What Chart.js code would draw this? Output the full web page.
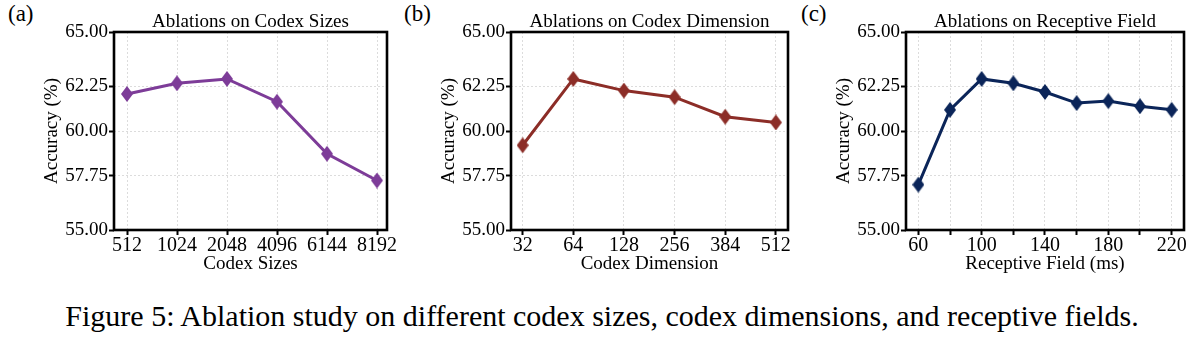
<!DOCTYPE html>
<html>
<head>
<meta charset="utf-8">
<script src="https://cdn.jsdelivr.net/npm/chart.js@4.4.0/dist/chart.umd.min.js"></script>
<style>
    body { margin: 0; width: 1204px; height: 342px; background: #fff; position: relative; overflow: hidden; font-family: 'Liberation Serif', 'Times New Roman', serif; }
    .panel { position: absolute; top: 0; }
    .tag { position: absolute; top: 1px; font-size: 23px; color: #000; }
    .caption { position: absolute; left: 0; width: 1204px; top: 299px; text-align: center; font-size: 30px; color: #000; }
</style>
</head>
<body>
<div class="tag" style="left: 8px;">(a)</div>
<div class="tag" style="left: 404px;">(b)</div>
<div class="tag" style="left: 801px;">(c)</div>
<canvas id="sizes" class="panel" width="400" height="280" style="left: 0px;"></canvas>
<canvas id="dims" class="panel" width="400" height="280" style="left: 400px;"></canvas>
<canvas id="field" class="panel" width="409" height="280" style="left: 795px;"></canvas>
<div class="caption">Figure 5: Ablation study on different codex sizes, codex dimensions, and receptive fields.</div>

<script>
var accTicks = [55, 57.75, 60, 62.25, 65];

var sizeLabels = ['512', '1024', '2048', '4096', '6144', '8192'];
var sizeAcc = [61.87, 62.41, 62.63, 61.48, 58.85, 57.50];

var dimLabels = ['32', '64', '128', '256', '384', '512'];
var dimAcc = [59.28, 62.63, 62.04, 61.71, 60.72, 60.43];

var fieldMs = [60, 80, 100, 120, 140, 160, 180, 200, 220];
var fieldAcc = [57.29, 61.07, 62.63, 62.41, 61.97, 61.41, 61.51, 61.25, 61.07];
var fieldLabeled = [60, 100, 140, 180, 220];

Chart.defaults.font.family = "'Liberation Serif', 'Times New Roman', serif";
Chart.defaults.color = '#000';

// thin diamond marker, taller than wide
function diamond(color) {
    var c = document.createElement('canvas');
    c.width = 12;
    c.height = 16;
    var g = c.getContext('2d');
    g.fillStyle = color;
    g.beginPath();
    g.moveTo(6, 0);
    g.lineTo(12, 8);
    g.lineTo(6, 16);
    g.lineTo(0, 8);
    g.closePath();
    g.fill();
    return c;
}

// black box round the plot area + title above it
var frame = {
    id: 'frame',
    beforeDatasetsDraw: function(chart) {
        var a = chart.chartArea, ctx = chart.ctx;
        ctx.save();
        ctx.strokeStyle = '#000';
        ctx.lineWidth = 2.6;
        ctx.strokeRect(a.left, a.top, a.right - a.left, a.bottom - a.top);
        ctx.restore();
    },
    afterDraw: function(chart) {
        var a = chart.chartArea, ctx = chart.ctx;
        ctx.save();
        ctx.font = "19px 'Liberation Serif', serif";
        ctx.fillStyle = '#000';
        ctx.textAlign = 'center';
        ctx.textBaseline = 'alphabetic';
        ctx.fillText(chart.options.plugins.frame.text, (a.left + a.right) / 2, 27);
        ctx.restore();
    }
};

function makeChart(id, opts) {
    var grid = {
        color: '#d4d4d4',
        lineWidth: 0.8,
        tickColor: '#000',
        tickWidth: 2,
        tickLength: 5
    };
    return new Chart(document.getElementById(id), {
        type: 'line',
        data: {
            datasets: [{
                data: opts.points,
                borderColor: opts.color,
                borderWidth: 3,
                pointStyle: diamond(opts.color),
                pointRadius: 7,
                tension: 0
            }]
        },
        options: {
            responsive: false,
            animation: false,
            layout: { padding: { left: opts.padLeft, right: opts.padRight, top: 32, bottom: 0 } },
            plugins: {
                legend: { display: false },
                tooltip: { enabled: false },
                frame: { text: opts.title }
            },
            scales: {
                x: {
                    type: 'linear',
                    min: opts.xMin,
                    max: opts.xMax,
                    grid: grid,
                    border: { display: false, dash: [2, 2] },
                    afterBuildTicks: function(scale) {
                        scale.ticks = opts.xTicks.map(function(v) { return { value: v }; });
                    },
                    afterFit: function(scale) { scale.height = 50; },
                    ticks: {
                        autoSkip: false,
                        maxRotation: 0,
                        padding: -1,
                        font: { size: 20 },
                        callback: opts.xLabel
                    },
                    title: {
                        display: true,
                        text: opts.xTitle,
                        font: { size: 19 },
                        padding: { top: 0, bottom: 5 }
                    }
                },
                y: {
                    min: 55,
                    max: 65,
                    grid: grid,
                    border: { display: false, dash: [2, 2] },
                    afterBuildTicks: function(scale) {
                        scale.ticks = accTicks.map(function(v) { return { value: v }; });
                    },
                    afterFit: function(scale) { scale.width = 73; },
                    ticks: {
                        padding: 1,
                        font: { size: 19 },
                        callback: function(v) { return v.toFixed(2); }
                    },
                    title: {
                        display: true,
                        text: 'Accuracy (%)',
                        font: { size: 19 },
                        padding: 0
                    }
                }
            }
        },
        plugins: [frame]
    });
}

makeChart('sizes', {
    title: 'Ablations on Codex Sizes',
    color: '#7d3c98',
    points: sizeAcc.map(function(v, i) { return { x: i, y: v }; }),
    xMin: -0.26, xMax: 5.2,
    xTicks: sizeLabels.map(function(l, i) { return i; }),
    xLabel: function(v) { return sizeLabels[v]; },
    xTitle: 'Codex Sizes',
    padLeft: 41, padRight: 13
});

makeChart('dims', {
    title: 'Ablations on Codex Dimension',
    color: '#8c2d27',
    points: dimAcc.map(function(v, i) { return { x: i, y: v }; }),
    xMin: -0.23, xMax: 5.24,
    xTicks: dimLabels.map(function(l, i) { return i; }),
    xLabel: function(v) { return dimLabels[v]; },
    xTitle: 'Codex Dimension',
    padLeft: 38, padRight: 12
});

makeChart('field', {
    title: 'Ablations on Receptive Field',
    color: '#0b2559',
    points: fieldAcc.map(function(v, i) { return { x: fieldMs[i], y: v }; }),
    xMin: 52.2, xMax: 227.8,
    xTicks: fieldMs,
    xLabel: function(v) { return fieldLabeled.indexOf(v) >= 0 ? String(v) : ''; },
    xTitle: 'Receptive Field (ms)',
    padLeft: 38, padRight: 20
});
</script>
</body>
</html>
